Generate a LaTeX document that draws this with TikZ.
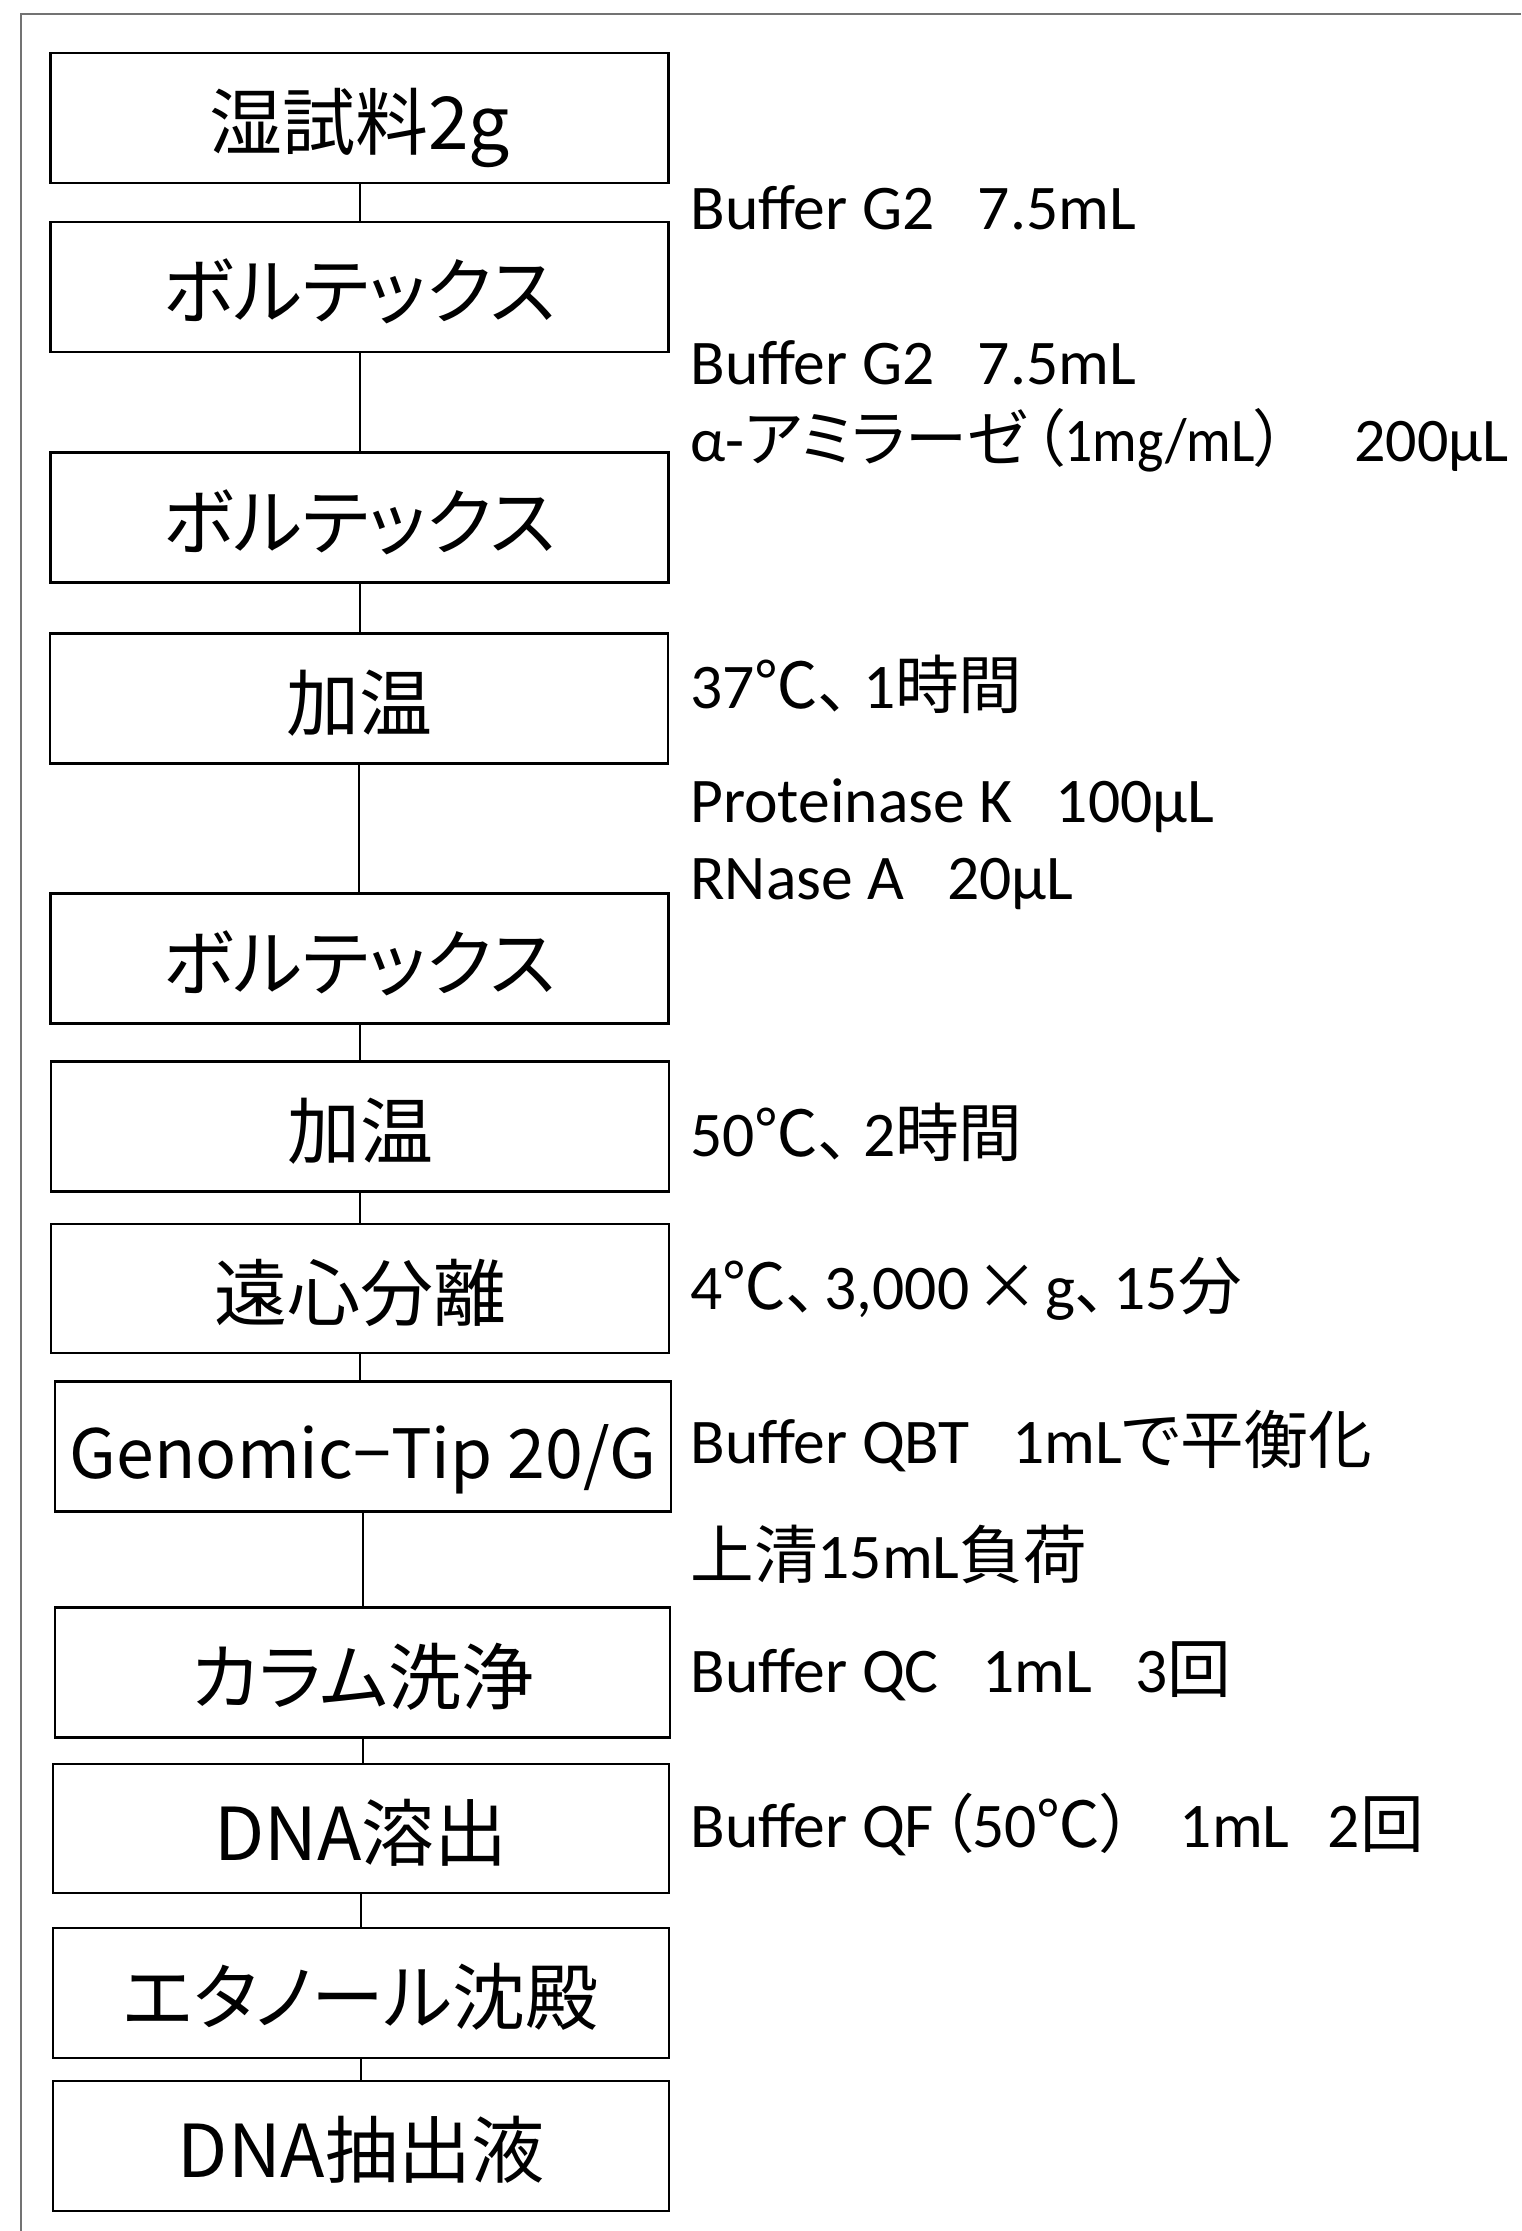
\documentclass[tikz,border=0pt]{standalone}
\usepackage{fontspec}
\setmainfont{Carlito}
\newfontfamily\jpfont[RawFeature=+palt]{Noto Sans CJK JP}
\newcommand\JP[1]{{\jpfont #1}}
\newcommand\gap{\hspace{0.68em}}
\begin{document}
\begin{tikzpicture}[x=0.5pt,y=-0.5pt,
  stepbox/.style={draw, line width=1.2pt, minimum width=309pt, minimum height=65pt, inner sep=0pt,
    text height=32pt, text depth=0.4pt, font=\jpfont\fontsize{36.5}{40}\selectfont},
  note/.style={anchor=base west, inner sep=0pt, font=\fontsize{31.8}{37}\selectfont},
  conn/.style={line width=1pt},
  frame/.style={draw=black!55, line width=1.1pt}]
\useasboundingbox (0,0) rectangle (1521,2231);
\draw[frame] (1521,14) -- (21,14) -- (21,2231);

\node[stepbox] (b1) at (359.5,118) {湿試料2g};
\node[stepbox] (b2) at (359.5,287) {ボルテックス};
\node[stepbox] (b3) at (359.5,517.5) {ボルテックス};
\node[stepbox] (b4) at (359,698.5) {加温};
\node[stepbox] (b5) at (359.5,958.5) {ボルテックス};
\node[stepbox] (b6) at (360,1126.5) {加温};
\node[stepbox, minimum height=64.5pt] (b7) at (360,1288.5) {遠心分離};
\node[stepbox, minimum width=308pt, font=\jpfont\fontsize{34}{40}\selectfont] (b8) at (363,1446.5) {Genomic−Tip 20/G};
\node[stepbox, minimum width=307.5pt] (b9) at (362.5,1672.5) {カラム洗浄};
\node[stepbox, minimum width=308pt, minimum height=64.5pt] (b10) at (361,1828.5) {DNA溶出};
\node[stepbox, minimum width=308pt] (b11) at (361,1993) {エタノール沈殿};
\node[stepbox, minimum width=308pt] (b12) at (361,2146) {DNA抽出液};

\foreach \a/\b in {b1/b2,b2/b3,b3/b4,b4/b5,b5/b6,b6/b7,b7/b8,b8/b9,b9/b10,b10/b11,b11/b12}
  \draw[conn] (\a.south) -- (\a.south |- \b.north);

\node[note] (t1) at (690,230) {Buffer G2\gap 7.5mL};
\node[note] (t2) at (690,385) {Buffer G2\gap 7.5mL};
\node[note, font=\fontsize{31}{37}\selectfont] (t3) at (690,461) {α-\JP{アミラーゼ\hspace{0.1em}（}\scalebox{0.9}[1]{1mg/mL}\JP{）}\hspace{1.1em}200μL};
\node[note] (t4) at (690,708) {37\JP{℃、}\hspace{0.2em}1\JP{時間}};
\node[note] (t5) at (690,822) {Proteinase K\gap 100μL};
\node[note] (t6) at (690,899) {RNase A\gap 20μL};
\node[note] (t7) at (690,1156) {50\JP{℃、}\hspace{0.2em}2\JP{時間}};
\node[note] (t8) at (690,1309) {4\JP{℃、}\hspace{0.1em}3,000\JP{\hspace{0.1em}×\hspace{0.1em}}g\JP{、}\hspace{0.1em}15\JP{分}};
\node[note] (t9) at (690,1463) {Buffer QBT\gap 1mL\JP{で平衡化}};
\node[note] (t10) at (690,1578) {\JP{上清}15mL\JP{負荷}};
\node[note] (t11) at (690,1692) {Buffer QC\gap 1mL\gap 3\JP{回}};
\node[note] (t12) at (690,1847) {Buffer QF\JP{\hspace{0.1em}（}50\JP{℃）}\hspace{0.75em}1mL\hspace{0.6em}2\JP{回}};
\end{tikzpicture}
\end{document}
